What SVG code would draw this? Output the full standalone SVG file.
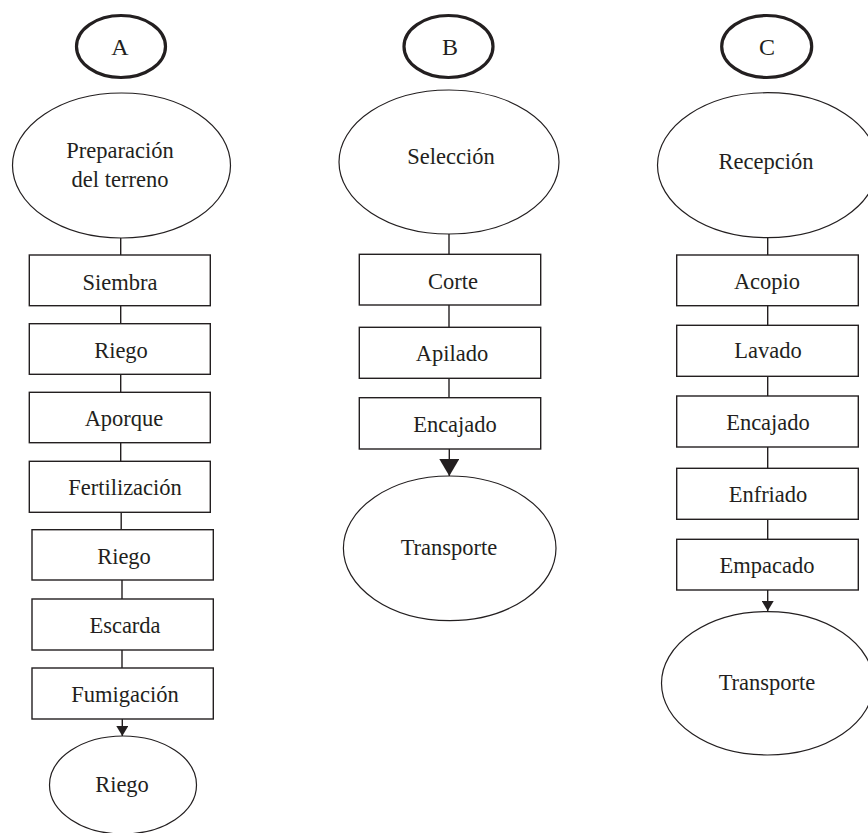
<svg xmlns="http://www.w3.org/2000/svg" width="868" height="833" viewBox="0 0 868 833">
<style>
  .box { fill: #ffffff; stroke: #231f20; stroke-width: 1.4; }
  .oval { fill: #ffffff; stroke: #231f20; stroke-width: 1.2; }
  .tag { fill: #ffffff; stroke: #231f20; stroke-width: 3.2; }
  .lbl { font-family: "Liberation Serif", "DejaVu Serif", serif; font-size: 22.5px; fill: #231f20; text-anchor: middle; }
  .big { font-size: 24px; }
  .conn { stroke: #231f20; stroke-width: 1.4; fill: none; }
</style>
<defs>
  <marker id="arrS" viewBox="0 0 10 12" refX="10" refY="6" markerWidth="10" markerHeight="12" markerUnits="userSpaceOnUse" orient="auto">
    <path d="M0,0 L10,6 L0,12 Z" fill="#231f20"/>
  </marker>
  <marker id="arrL" viewBox="0 0 17 20" refX="17" refY="10" markerWidth="17" markerHeight="20" markerUnits="userSpaceOnUse" orient="auto">
    <path d="M0,0 L17,10 L0,20 Z" fill="#231f20"/>
  </marker>
</defs>
<rect width="868" height="833" fill="#ffffff"/>

<g id="connectors">
  <!-- column A -->
  <line class="conn" x1="120.7" y1="238" x2="120.7" y2="255"/>
  <line class="conn" x1="120.7" y1="305.7" x2="120.7" y2="323.7"/>
  <line class="conn" x1="120.7" y1="374.3" x2="120.7" y2="392.3"/>
  <line class="conn" x1="120.7" y1="442.7" x2="120.7" y2="461.3"/>
  <line class="conn" x1="121.2" y1="512.3" x2="121.2" y2="529.7"/>
  <line class="conn" x1="122" y1="580" x2="122" y2="599"/>
  <line class="conn" x1="122" y1="650" x2="122" y2="668"/>
  <line class="conn" x1="122.3" y1="719" x2="122.3" y2="736" marker-end="url(#arrS)"/>
  <!-- column B -->
  <line class="conn" x1="449" y1="234" x2="449" y2="254.3"/>
  <line class="conn" x1="449" y1="305" x2="449" y2="327.3"/>
  <line class="conn" x1="449" y1="378.3" x2="449" y2="397.7"/>
  <line class="conn" x1="449.3" y1="449" x2="449.3" y2="476" marker-end="url(#arrL)"/>
  <!-- column C -->
  <line class="conn" x1="767.7" y1="237.7" x2="767.7" y2="255"/>
  <line class="conn" x1="767.7" y1="305.7" x2="767.7" y2="325.3"/>
  <line class="conn" x1="767.7" y1="376.3" x2="767.7" y2="396"/>
  <line class="conn" x1="767.7" y1="447" x2="767.7" y2="468.3"/>
  <line class="conn" x1="767.7" y1="519.3" x2="767.7" y2="539.3"/>
  <line class="conn" x1="767.7" y1="590" x2="767.7" y2="611" marker-end="url(#arrS)"/>
</g>

<!-- Column A -->
<g id="tagA"><ellipse class="tag" cx="121" cy="46.5" rx="44.5" ry="31"/><text class="lbl big" x="120" y="54.5">A</text></g>
<g id="a_preparacion"><ellipse class="oval" cx="121.5" cy="165.5" rx="109" ry="72.5"/><text class="lbl" x="120" y="158">Preparación</text><text class="lbl" x="120" y="187">del terreno</text></g>
<g id="a_siembra"><rect class="box" x="29.3" y="255" width="181" height="50.7"/><text class="lbl" x="120" y="289.5">Siembra</text></g>
<g id="a_riego1"><rect class="box" x="29.3" y="323.7" width="181" height="50.6"/><text class="lbl" x="121" y="358">Riego</text></g>
<g id="a_aporque"><rect class="box" x="29.3" y="392.3" width="181" height="50.4"/><text class="lbl" x="124" y="426">Aporque</text></g>
<g id="a_fertilizacion"><rect class="box" x="29.3" y="461.3" width="181" height="51"/><text class="lbl" x="125" y="495">Fertilización</text></g>
<g id="a_riego2"><rect class="box" x="32" y="529.7" width="181.3" height="50.3"/><text class="lbl" x="124" y="563.5">Riego</text></g>
<g id="a_escarda"><rect class="box" x="32" y="599" width="181.3" height="51"/><text class="lbl" x="125" y="633">Escarda</text></g>
<g id="a_fumigacion"><rect class="box" x="32" y="668" width="181.3" height="51"/><text class="lbl" x="125" y="702">Fumigación</text></g>
<g id="a_riego3"><ellipse class="oval" cx="123" cy="785" rx="73.5" ry="49"/><text class="lbl" x="122" y="792">Riego</text></g>

<!-- Column B -->
<g id="tagB"><ellipse class="tag" cx="448.5" cy="46.5" rx="44.5" ry="31"/><text class="lbl big" x="450" y="54.5">B</text></g>
<g id="b_seleccion"><ellipse class="oval" cx="449" cy="162" rx="110" ry="72"/><text class="lbl" x="451" y="164">Selección</text></g>
<g id="b_corte"><rect class="box" x="359.3" y="254.3" width="181.4" height="50.7"/><text class="lbl" x="453" y="289">Corte</text></g>
<g id="b_apilado"><rect class="box" x="359.3" y="327.3" width="181.4" height="51"/><text class="lbl" x="452" y="361">Apilado</text></g>
<g id="b_encajado"><rect class="box" x="359.3" y="397.7" width="181.4" height="51.3"/><text class="lbl" x="455" y="432">Encajado</text></g>
<g id="b_transporte"><ellipse class="oval" cx="449.7" cy="548.3" rx="106.3" ry="72.3"/><text class="lbl" x="449" y="555">Transporte</text></g>

<!-- Column C -->
<g id="tagC"><ellipse class="tag" cx="766.7" cy="46.5" rx="45" ry="31"/><text class="lbl big" x="767" y="54.5">C</text></g>
<g id="c_recepcion"><ellipse class="oval" cx="767.5" cy="165.2" rx="110" ry="72.5"/><text class="lbl" x="766" y="169">Recepción</text></g>
<g id="c_acopio"><rect class="box" x="676.7" y="255" width="181.6" height="50.7"/><text class="lbl" x="767" y="289">Acopio</text></g>
<g id="c_lavado"><rect class="box" x="676.7" y="325.3" width="181.6" height="51"/><text class="lbl" x="768" y="358">Lavado</text></g>
<g id="c_encajado"><rect class="box" x="676.7" y="396" width="181.6" height="51"/><text class="lbl" x="768" y="430">Encajado</text></g>
<g id="c_enfriado"><rect class="box" x="676.7" y="468.3" width="181.6" height="51"/><text class="lbl" x="768" y="502">Enfriado</text></g>
<g id="c_empacado"><rect class="box" x="676.7" y="539.3" width="181.6" height="50.7"/><text class="lbl" x="767" y="573">Empacado</text></g>
<g id="c_transporte"><ellipse class="oval" cx="767.5" cy="683.3" rx="106" ry="71.7"/><text class="lbl" x="767" y="689.5">Transporte</text></g>
</svg>
